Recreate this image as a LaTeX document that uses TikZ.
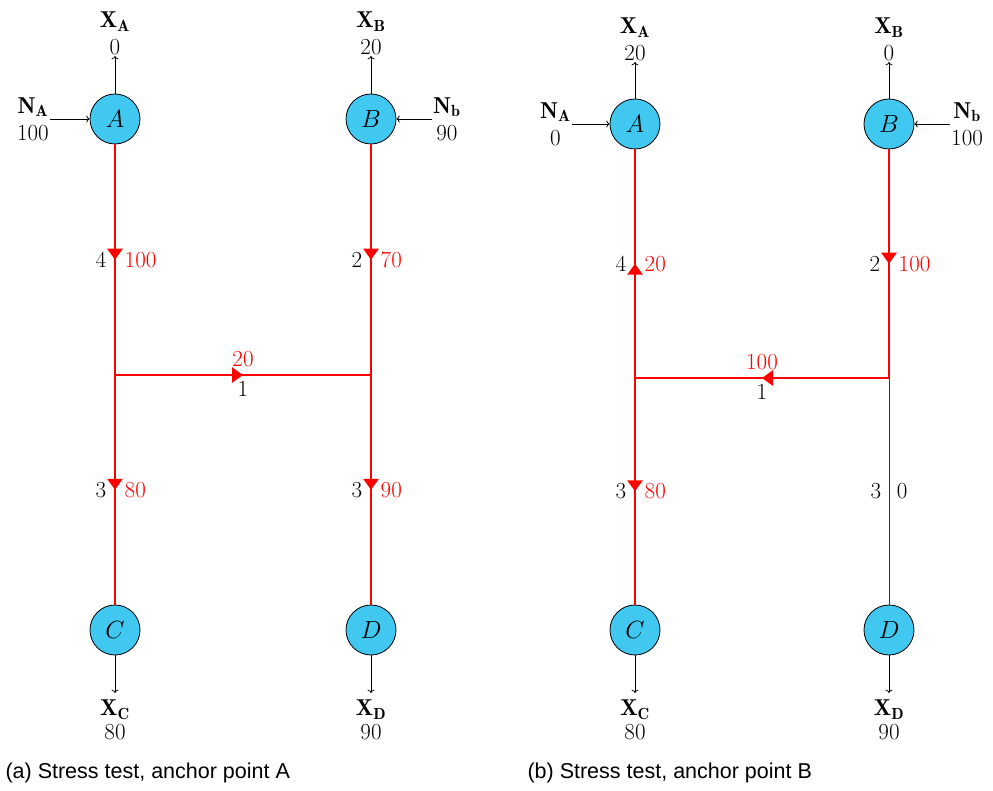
\documentclass[tikz,border=0pt]{standalone}
\usepackage{fontspec}
\newfontfamily\capfont{Liberation Sans}
\usetikzlibrary{arrows.meta,decorations.markings}
\definecolor{nodecyan}{RGB}{64,200,240}
\begin{document}
\begin{tikzpicture}[x=1pt,y=-1pt,
  every node/.style={font=\fontsize{23}{27}\selectfont},
  vert/.style={circle,draw=black,line width=0.8pt,fill=nodecyan,minimum size=50pt,inner sep=0pt},
  lbl/.style={align=center,inner sep=1pt},
  thinarrow/.style={->,line width=0.8pt},
  downarrow/.style={->,line width=0.8pt,shorten >=6pt},
  flow/.style={red,line width=2.8pt,postaction={decorate},
    decoration={markings,mark=at position 0.5 with {\arrow{Triangle[width=15pt,length=11pt]}}}},
  rflow/.style={red,line width=2.8pt,postaction={decorate},
    decoration={markings,mark=at position 0.5 with {\arrowreversed{Triangle[width=15pt,length=11pt]}}}},
  captext/.style={font=\capfont\fontsize{21.5}{24}\selectfont,anchor=west}
]
\useasboundingbox (0,0) rectangle (993,791);

% ---------- panel (a) ----------
\node[vert] (A) at (115,119) {$A$};
\node[vert] (B) at (371,119) {$B$};
\node[vert] (C) at (115,630) {$C$};
\node[vert] (D) at (371,630) {$D$};
\coordinate (J1) at (115,375);
\coordinate (J2) at (371,375);

\node[lbl,anchor=south] (xa) at (115,56) {$\mathbf{X_A}$\\0};
\node[lbl,anchor=south] (xb) at (371,56) {$\mathbf{X_B}$\\20};
\node[lbl,anchor=north] (xc) at (115,699) {$\mathbf{X_C}$\\[-3pt]80};
\node[lbl,anchor=north] (xd) at (371,699) {$\mathbf{X_D}$\\[-3pt]90};
\node[lbl,anchor=east] (na) at (50,119) {$\mathbf{N_A}$\\100};
\node[lbl,anchor=west] (nb) at (432,119) {$\mathbf{N_b}$\\90};

\draw[thinarrow] (A.north) -- (xa.south);
\draw[thinarrow] (B.north) -- (xb.south);
\draw[downarrow] (C.south) -- (xc.north);
\draw[downarrow] (D.south) -- (xd.north);
\draw[thinarrow] (na.east) -- (A.west);
\draw[thinarrow] (nb.west) -- (B.east);

\draw[flow] (A.south) -- (J1)
  node[midway,left=4pt,black]{4} node[midway,right=5pt,red]{100};
\draw[flow] (J1) -- (C.north)
  node[midway,left=4pt,black]{3} node[midway,right=5pt,red]{80};
\draw[flow] (B.south) -- (J2)
  node[midway,left=4pt,black]{2} node[midway,right=5pt,red]{70};
\draw[flow] (J2) -- (D.north)
  node[midway,left=4pt,black]{3} node[midway,right=5pt,red]{90};
\draw[flow] (J1) -- (J2)
  node[pos=0.5,above=3pt,red]{20} node[pos=0.5,below=2pt,black]{1};

\node[captext] (capa) at (2,773) {(a) Stress test, anchor point A};

% ---------- panel (b) ----------
\node[vert] (A2) at (635,124) {$A$};
\node[vert] (B2) at (889,124) {$B$};
\node[vert] (C2) at (635,630) {$C$};
\node[vert] (D2) at (889,630) {$D$};
\coordinate (J3) at (635,378);
\coordinate (J4) at (889,378);

\node[lbl,anchor=south] (xa2) at (635,62) {$\mathbf{X_A}$\\20};
\node[lbl,anchor=south] (xb2) at (889,62) {$\mathbf{X_B}$\\0};
\node[lbl,anchor=north] (xc2) at (635,699) {$\mathbf{X_C}$\\[-3pt]80};
\node[lbl,anchor=north] (xd2) at (889,699) {$\mathbf{X_D}$\\[-3pt]90};
\node[lbl,anchor=east] (na2) at (572,124) {$\mathbf{N_A}$\\0};
\node[lbl,anchor=west] (nb2) at (950,124) {$\mathbf{N_b}$\\100};

\draw[thinarrow] (A2.north) -- (xa2.south);
\draw[thinarrow] (B2.north) -- (xb2.south);
\draw[downarrow] (C2.south) -- (xc2.north);
\draw[downarrow] (D2.south) -- (xd2.north);
\draw[thinarrow] (na2.east) -- (A2.west);
\draw[thinarrow] (nb2.west) -- (B2.east);

\draw[rflow] (A2.south) -- (J3)
  node[midway,left=4pt,black]{4} node[midway,right=5pt,red]{20};
\draw[flow] (J3) -- (C2.north)
  node[midway,left=4pt,black]{3} node[midway,right=5pt,red]{80};
\draw[flow] (B2.south) -- (J4)
  node[midway,left=4pt,black]{2} node[midway,right=5pt,red]{100};
\draw[black!80,line width=1pt] (J4) -- (D2.north)
  node[midway,left=4pt,black]{3} node[midway,right=4pt,black]{0};
\draw[rflow] (J3) -- (J4)
  node[pos=0.5,above=3pt,red]{100} node[pos=0.5,below=2pt,black]{1};

\node[captext] (capb) at (524,773) {(b) Stress test, anchor point B};
\end{tikzpicture}
\end{document}
